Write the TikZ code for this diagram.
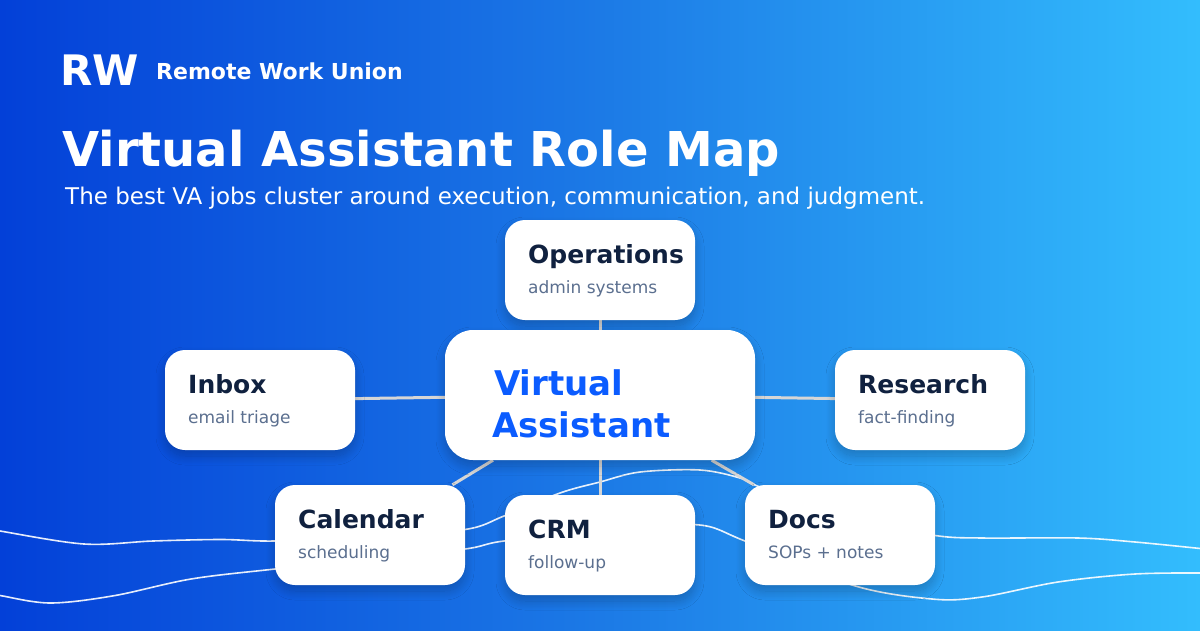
\documentclass[tikz,border=0pt]{standalone}
\usepackage{fontspec}
\setmainfont{DejaVu Sans}
\usetikzlibrary{shadows.blur}
\definecolor{bgL}{HTML}{0340D8}
\definecolor{bgM}{HTML}{1C7AE6}
\definecolor{bgR}{HTML}{33BDFD}
\definecolor{titleC}{HTML}{10213F}
\definecolor{subC}{HTML}{5B6F8F}
\definecolor{vaC}{HTML}{0B5CFF}
\definecolor{connC}{HTML}{D6D6D6}
\pgfdeclarelayer{bg}
\pgfdeclarelayer{lines}
\pgfsetlayers{bg,lines,main}
\begin{document}
\begin{tikzpicture}[x=1pt,y=-1pt,
  card/.style={rectangle, rounded corners=20pt, fill=white, minimum width=190pt, minimum height=100pt, inner sep=0pt,
    blur shadow={shadow xshift=0pt, shadow yshift=-6pt, shadow blur radius=9pt, shadow opacity=22, shadow blur steps=20}},
  cardtitle/.style={anchor=base west, inner sep=0pt, text=titleC, font=\bfseries\fontsize{25}{29}\selectfont},
  cardsub/.style={anchor=base west, inner sep=0pt, text=subC, font=\fontsize{17}{20}\selectfont},
  headtext/.style={anchor=base west, inner sep=0pt, text=white},
  conn/.style={draw=connC, line width=3pt},
  wave/.style={draw=white, line width=1.6pt, opacity=0.9}]
\useasboundingbox (0,0) rectangle (1200,630);

% cards
\node[card] (ops) at (600,270) {};
\node[card] (inbox) at (260,400) {};
\node[card] (research) at (930,400) {};
\node[card] (cal) at (370,535) {};
\node[card] (crm) at (600,545) {};
\node[card] (docs) at (840,535) {};
\node[card, minimum width=310pt, minimum height=130pt, rounded corners=28pt] (va) at (600,395) {};

% card texts
\node[cardtitle] (opsT) at (528,263.5) {Operations};
\node[cardsub] (opsS) at (528,293.5) {admin systems};
\node[cardtitle] (inboxT) at (188,393.5) {Inbox};
\node[cardsub] (inboxS) at (188,423.5) {email triage};
\node[cardtitle] (researchT) at (858,393.5) {Research};
\node[cardsub] (researchS) at (858,423.5) {fact-finding};
\node[cardtitle] (calT) at (298,528.5) {Calendar};
\node[cardsub] (calS) at (298,558.5) {scheduling};
\node[cardtitle] (crmT) at (528,538.5) {CRM};
\node[cardsub] (crmS) at (528,568.5) {follow-up};
\node[cardtitle] (docsT) at (768,528.5) {Docs};
\node[cardsub] (docsS) at (768,558.5) {SOPs + notes};
\node[anchor=base west, inner sep=0pt, text=vaC, font=\bfseries\fontsize{34}{40}\selectfont] (vaT1) at (494,395) {Virtual};
\node[anchor=base west, inner sep=0pt, text=vaC, font=\bfseries\fontsize{34}{40}\selectfont] (vaT2) at (492,437) {Assistant};

% header
\node[headtext, font=\bfseries\fontsize{42}{46}\selectfont] (rw) at (60,85) {RW};
\node[headtext, font=\bfseries\fontsize{22}{26}\selectfont] (union) at (156,79.5) {Remote Work Union};
\node[headtext, font=\bfseries\fontsize{48}{54}\selectfont] (maintitle) at (62,166) {Virtual Assistant Role Map};
\node[headtext, font=\fontsize{23}{27}\selectfont] (subtitle) at (65,204) {The best VA jobs cluster around execution, communication, and judgment.};

\begin{pgfonlayer}{bg}
  \shade[left color=bgL, right color=bgR, middle color=bgM] (0,0) rectangle (1200,630);
  \begin{scope}
    \clip (0,0) rectangle (1200,630);
    \draw[wave] plot[smooth, tension=0.55] coordinates {(-5,530) (0,531) (84,544) (153,541) (221,539.5) (275,541) (370,537) (465,529.5) (504,516) (560,493) (600,482) (640,472) (700,470) (740,478) (760,487) (850,520) (935,535.5) (982,538) (1078,538) (1135,542) (1205,549)};
    \draw[wave] plot[smooth, tension=0.55] coordinates {(-5,595) (0,595.5) (50,603) (114,595.7) (191,579) (275,569) (370,559) (465,549) (504,541) (600,532) (695,524.6) (745,541) (852,585) (932,599) (982,597) (1058,582) (1135,574) (1205,573)};
  \end{scope}
\end{pgfonlayer}

\begin{pgfonlayer}{lines}
  \draw[conn] (va) -- (ops);
  \draw[conn] (va) -- (inbox);
  \draw[conn] (va) -- (research);
  \draw[conn] (va) -- (cal);
  \draw[conn] (va) -- (crm);
  \draw[conn] (va) -- (docs);
\end{pgfonlayer}
\end{tikzpicture}
\end{document}
